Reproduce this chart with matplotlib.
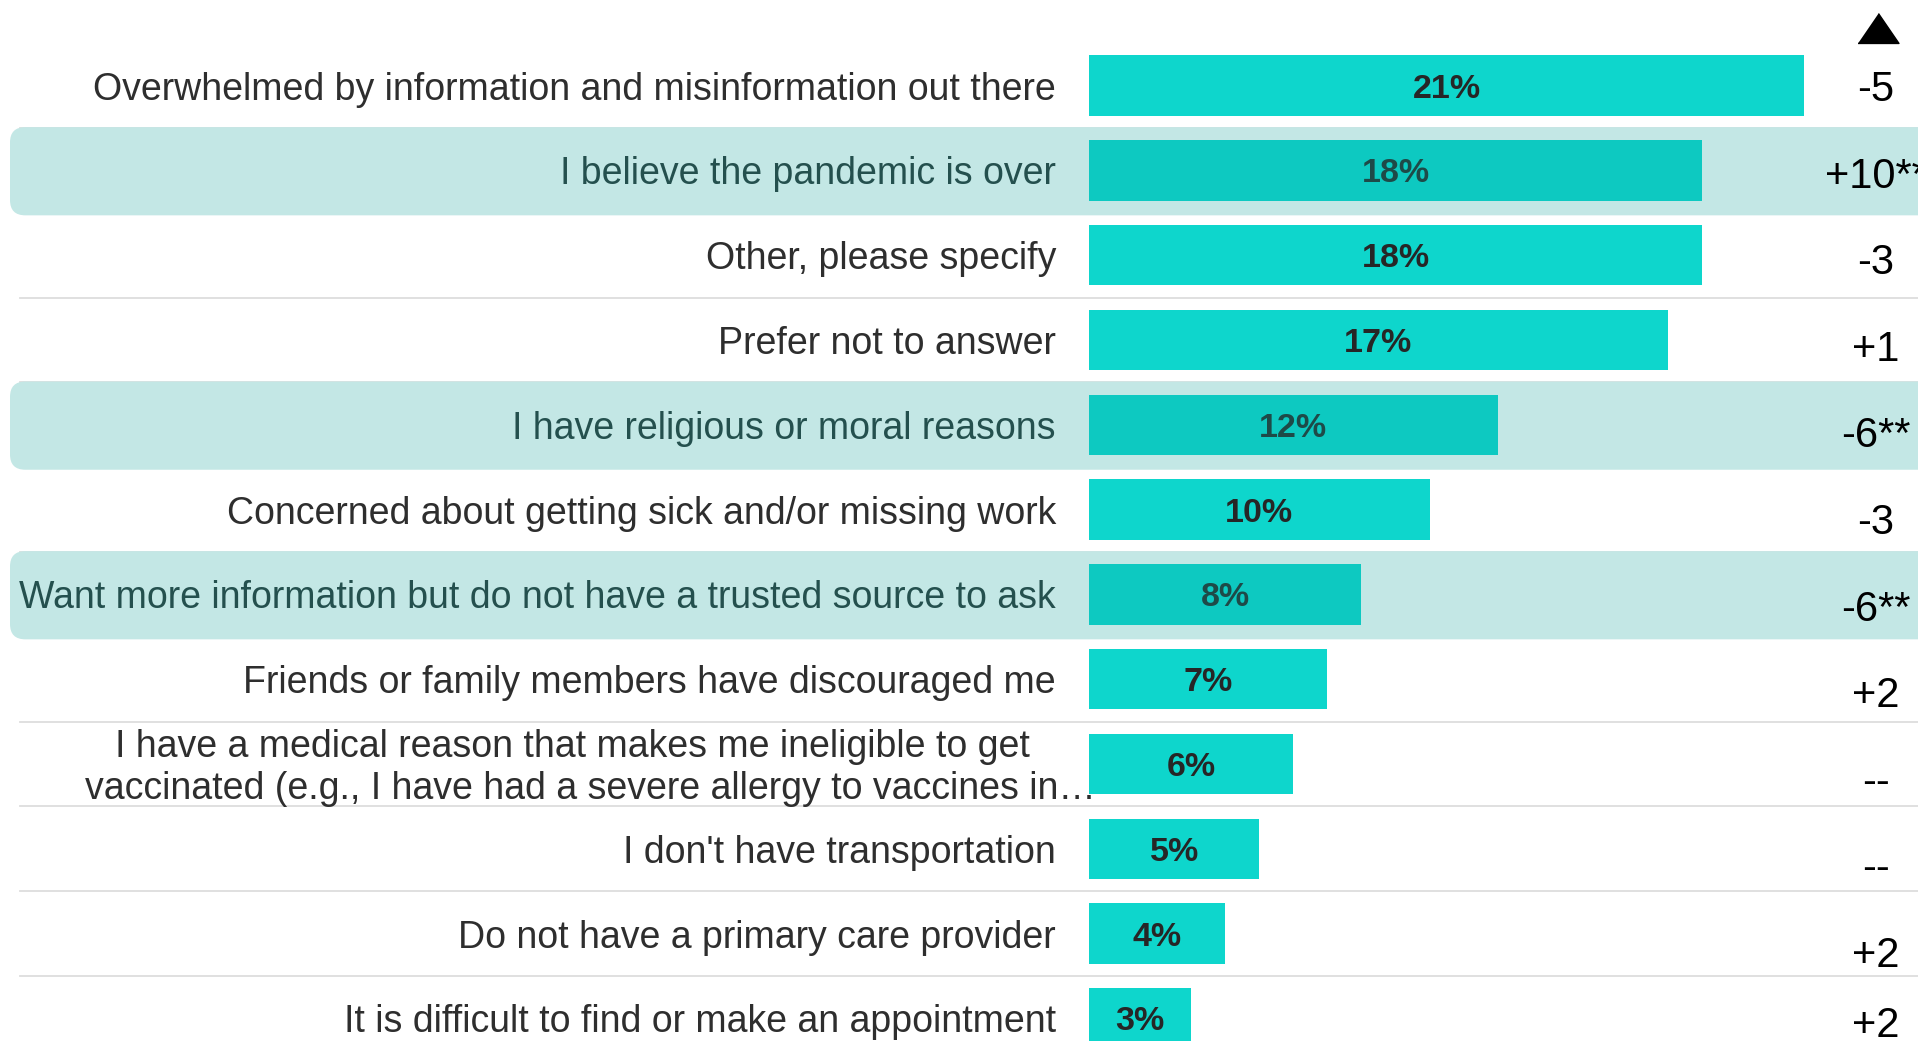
import numpy as np
import matplotlib
matplotlib.use("Agg")
import matplotlib.pyplot as plt
from matplotlib.patches import FancyBboxPatch

plt.rcParams['font.family'] = ['Liberation Sans', 'DejaVu Sans']

# Data
labels = [
    "Overwhelmed by information and misinformation out there",
    "I believe the pandemic is over",
    "Other, please specify",
    "Prefer not to answer",
    "I have religious or moral reasons",
    "Concerned about getting sick and/or missing work",
    "Want more information but do not have a trusted source to ask",
    "Friends or family members have discouraged me",
    "I have a medical reason that makes me ineligible to get\nvaccinated (e.g., I have had a severe allergy to vaccines in\u2026",
    "I don't have transportation",
    "Do not have a primary care provider",
    "It is difficult to find or make an appointment",
]
values = [21, 18, 18, 17, 12, 10, 8, 7, 6, 5, 4, 3]
changes = ["-5", "+10**", "-3", "+1", "-6**", "-3", "-6**", "+2", "--", "--", "+2", "+2"]
highlight = [False, True, False, False, True, False, True, False, False, False, False, False]

# Colours
bar_color = "#0ED6CC"
bar_hl_color = "#0DC9C1"
band_color = "#C3E7E5"
label_color = "#2E2E2E"
label_hl_color = "#24504E"
pct_color = "#262626"
pct_hl_color = "#1E4A48"

W, H = 1918, 1041
fig = plt.figure(figsize=(W / 100, H / 100), dpi=100)
ax = fig.add_axes([0, 0, 1, 1])

# pixel geometry
x0_px = 1089          # bar baseline
px_per_pct = 34.05
row0_px = 85.6
row_step = 84.8
ax.set_xlim(-x0_px / px_per_pct, (W - x0_px) / px_per_pct)
ax.set_ylim((H - row0_px) / row_step, -row0_px / row_step)
ax.axis('off')

rows = np.arange(len(labels))
xmin, xmax = ax.get_xlim()

# separator lines (bands drawn on top hide the ones at their edges)
for r in rows[:-1]:
    ax.plot([xmin + 20 / px_per_pct, xmax], [r + 0.5, r + 0.5], color="#DDDDDD", lw=1.3, zorder=1)

# highlight bands with rounded left corners
for r, hl in zip(rows, highlight):
    if hl:
        band = FancyBboxPatch((xmin + 10 / px_per_pct, r - 0.51), (xmax - xmin) + 2, 1.04,
                              boxstyle="round,pad=0,rounding_size=0.45",
                              mutation_aspect=px_per_pct / row_step,
                              fc=band_color, ec="none", zorder=2)
        ax.add_patch(band)

colors = [bar_hl_color if h else bar_color for h in highlight]
ax.barh(rows, values, height=0.71, left=0, color=colors, zorder=3)

lab_fs = 27
for r, v, lab, hl in zip(rows, values, labels, highlight):
    ax.text(v / 2, r, f"{v}%", ha='center', va='center_baseline', fontsize=24.5, fontweight='bold',
            color=pct_hl_color if hl else pct_color, zorder=4)
    lc = label_hl_color if hl else label_color
    if "\n" in lab:
        l1, l2 = lab.split("\n")
        ax.text((572 - x0_px) / px_per_pct, r - 0.25, l1, ha='center', va='center_baseline',
                fontsize=lab_fs, color=lc, zorder=4)
        ax.text((590 - x0_px) / px_per_pct, r + 0.245, l2, ha='center', va='center_baseline',
                fontsize=lab_fs, color=lc, zorder=4)
    else:
        ax.text(-33 / px_per_pct, r, lab, ha='right', va='center_baseline', fontsize=lab_fs,
                color=lc, zorder=4)

# change column
x_chg = (1876 - x0_px) / px_per_pct
for r, c in zip(rows, changes):
    drift = r * 0.021 if r < len(rows) - 1 else 0.04
    ax.text(x_chg, r + drift, c, ha='center', va='center_baseline', fontsize=30,
            color="black", zorder=4)

# up-triangle header marker
tri = [(-1, -0.73), (1, -0.73), (0, 0.73)]
ax.plot([x_chg + 0.05], [-0.68], marker=tri, markersize=29.5, color="black",
        linestyle='none', zorder=4)

fig.savefig("out.png", dpi=100)
